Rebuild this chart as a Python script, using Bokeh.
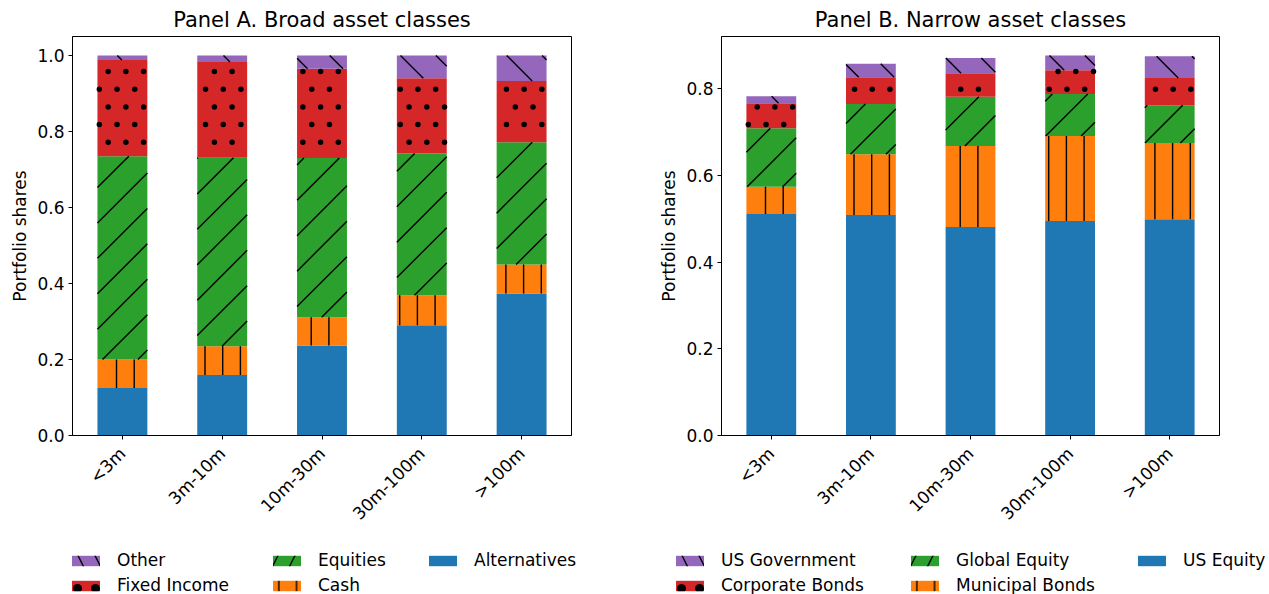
import math

from bokeh.embed import file_html
from bokeh.layouts import column, row
from bokeh.models import (ColumnDataSource, FactorRange, FixedTicker, Legend,
                          LegendItem, PrintfTickFormatter, Range1d)
from bokeh.plotting import figure
from bokeh.resources import INLINE

# Wealth buckets on the x axis
sizes = ["<3m", "3m-10m", "10m-30m", "30m-100m", ">100m"]

# Panel A: broad asset classes (shares of portfolio, stacked bottom to top)
alternatives = [0.125, 0.159, 0.237, 0.290, 0.374]
cash = [0.075, 0.076, 0.074, 0.079, 0.076]
equities = [0.535, 0.496, 0.419, 0.373, 0.322]
fixed_income = [0.253, 0.252, 0.235, 0.198, 0.161]
other = [0.012, 0.017, 0.035, 0.060, 0.067]

# Panel B: narrow asset classes (stacked bottom to top)
us_equity = [0.511, 0.509, 0.481, 0.495, 0.499]
municipal_bonds = [0.063, 0.140, 0.187, 0.196, 0.176]
global_equity = [0.135, 0.116, 0.114, 0.097, 0.087]
corporate_bonds = [0.058, 0.062, 0.054, 0.055, 0.063]
us_government = [0.016, 0.031, 0.035, 0.034, 0.050]

yticks_a = [0.0, 0.2, 0.4, 0.6, 0.8, 1.0]
yticks_b = [0.0, 0.2, 0.4, 0.6, 0.8]

COLORS = ["#1f77b4", "#ff7f0e", "#2ca02c", "#d62728", "#9467bd"]
KINDS = [None, "vline", "slash", "dot", "backslash"]
FONT = "DejaVu Sans"
FRAME_H = 399
BAR_W = 0.5

# hatch geometry in screen pixels
STEP = 17.7          # vertical-line and dot pitch
DIAG = 35.4          # diagonal-line pitch
PHASE = {"vline": 8.6, "slash": 24.8, "backslash": 0.0, "dot_v": 10.0, "dot_u": 0.3}

# swatch patterns for the legend strips
SWATCH_PATTERN = [" ", "|", "/", ".", "\\"]
SWATCH_SCALE = [12, 17.7, 34, 18, 34]


def hatch_geometry(series, pxx, pxy):
    """Hatch strokes and dots for every stacked segment, in data units."""
    segs = dict(x0=[], y0=[], x1=[], y1=[])
    dots = dict(x=[], y=[])
    base = [0.0] * len(sizes)

    def add_seg(ua, va, ub, vb):
        segs["x0"].append(ua / pxx)
        segs["y0"].append(va / pxy)
        segs["x1"].append(ub / pxx)
        segs["y1"].append(vb / pxy)

    for vals, kind in zip(series, KINDS):
        for i, val in enumerate(vals):
            u0 = (i + 0.5 - BAR_W / 2) * pxx
            u1 = (i + 0.5 + BAR_W / 2) * pxx
            v0 = base[i] * pxy
            v1 = (base[i] + val) * pxy
            base[i] += val
            if kind == "vline":
                k0 = math.ceil((u0 + 2 - PHASE["vline"]) / STEP)
                k1 = math.floor((u1 - 2 - PHASE["vline"]) / STEP)
                for k in range(k0, k1 + 1):
                    u = PHASE["vline"] + k * STEP
                    add_seg(u, v0, u, v1)
            elif kind == "slash":
                ph = PHASE["slash"]
                k0 = math.ceil((u0 - v1 - ph) / DIAG)
                k1 = math.floor((u1 - v0 - ph) / DIAG)
                for k in range(k0, k1 + 1):
                    c = ph + k * DIAG
                    us, ue = max(u0, v0 + c), min(u1, v1 + c)
                    if ue - us > 0.5:
                        add_seg(us, us - c, ue, ue - c)
            elif kind == "backslash":
                ph = PHASE["backslash"]
                k0 = math.ceil((u0 + v0 - ph) / DIAG)
                k1 = math.floor((u1 + v1 - ph) / DIAG)
                for k in range(k0, k1 + 1):
                    c = ph + k * DIAG
                    us, ue = max(u0, c - v1), min(u1, c - v0)
                    if ue - us > 0.5:
                        add_seg(us, c - us, ue, c - ue)
            elif kind == "dot":
                r0 = math.ceil((v0 + 1 - PHASE["dot_v"]) / STEP)
                r1 = math.floor((v1 - 1 - PHASE["dot_v"]) / STEP)
                for r in range(r0, r1 + 1):
                    v = PHASE["dot_v"] + r * STEP
                    off = PHASE["dot_u"] + (STEP / 2 if r % 2 else 0.0)
                    c0 = math.ceil((u0 + 1 - off) / STEP)
                    c1 = math.floor((u1 - 1 - off) / STEP)
                    for c in range(c0, c1 + 1):
                        dots["x"].append((off + c * STEP) / pxx)
                        dots["y"].append(v / pxy)
    return segs, dots


def build_panel(title, series, yticks, border_left, frame_width, border_right):
    keys = [f"s{i}" for i in range(len(series))]
    data = {"size": sizes}
    for k, s in zip(keys, series):
        data[k] = s
    source = ColumnDataSource(data)

    top = max(sum(v) for v in zip(*series)) * 1.05

    p = figure(x_range=FactorRange(*sizes), y_range=Range1d(0, top),
               frame_width=frame_width, frame_height=FRAME_H,
               min_border_left=border_left, min_border_right=border_right,
               min_border_top=35, min_border_bottom=96,
               output_backend="svg", toolbar_location=None, title=title)

    p.vbar_stack(keys, x="size", width=BAR_W, source=source,
                 fill_color=COLORS, line_color=None)

    segs, dots = hatch_geometry(series, frame_width / len(sizes), FRAME_H / top)
    p.segment(x0="x0", y0="y0", x1="x1", y1="y1", source=ColumnDataSource(segs),
              line_color="black", line_width=1.4)
    p.scatter(x="x", y="y", source=ColumnDataSource(dots), size=5.5,
              fill_color="black", line_color=None)

    p.title.text_font = FONT
    p.title.text_font_size = "21px"
    p.title.text_font_style = "normal"
    p.title.align = "center"
    p.title.text_color = "black"

    p.xgrid.visible = False
    p.ygrid.visible = False
    p.outline_line_color = "black"
    p.outline_line_width = 1
    p.outline_line_alpha = 1

    for ax in (p.xaxis[0], p.yaxis[0]):
        ax.axis_line_color = "black"
        ax.major_tick_line_color = "black"
        ax.major_tick_out = 4
        ax.major_tick_in = 0
        ax.minor_tick_out = 0
        ax.minor_tick_in = 0
        ax.major_label_text_font = FONT
        ax.major_label_text_font_size = "17px"
        ax.major_label_text_color = "black"

    p.xaxis.major_label_orientation = math.pi / 4
    p.xaxis.major_label_standoff = 11

    p.yaxis.ticker = FixedTicker(ticks=yticks)
    p.yaxis.formatter = PrintfTickFormatter(format="%.1f")
    p.yaxis.axis_label = "Portfolio shares"
    p.yaxis.axis_label_text_font = FONT
    p.yaxis.axis_label_text_font_size = "17px"
    p.yaxis.axis_label_text_font_style = "normal"
    p.yaxis.axis_label_text_color = "black"
    p.yaxis.axis_label_standoff = 4
    p.yaxis.major_label_standoff = 4
    return p, source, keys


def build_legend(width, source, keys, labels, columns):
    """Legend strip: three columns of swatches beneath a panel."""
    p = figure(x_range=FactorRange(*sizes), y_range=Range1d(0, 1),
               frame_width=width, frame_height=64, min_border=0,
               x_axis_location=None, y_axis_location=None,
               output_backend="svg", toolbar_location=None)
    p.outline_line_color = None
    p.xgrid.visible = False
    p.ygrid.visible = False

    rs = p.vbar_stack(keys, x="size", width=BAR_W, source=source,
                      fill_color=COLORS, line_color=None,
                      hatch_pattern=SWATCH_PATTERN, hatch_scale=SWATCH_SCALE,
                      hatch_color="black", hatch_weight=1.4)
    for r in rs:
        r.visible = False
    swatches = dict(zip(labels, rs))

    for dx, dy, col_labels in columns:
        items = [LegendItem(label=lab, renderers=[swatches[lab]]) for lab in col_labels]
        leg = Legend(items=items, location=(dx, dy), orientation="vertical",
                     padding=0, margin=0, spacing=5,
                     glyph_width=35, glyph_height=13, label_standoff=14,
                     label_height=20, label_text_font=FONT,
                     label_text_font_size="17px", label_text_color="black",
                     border_line_alpha=0, background_fill_alpha=0,
                     inactive_fill_alpha=0)
        p.add_layout(leg)
    return p


labels_a = ["Alternatives", "Cash", "Equities", "Fixed Income", "Other"]
panel_a, src_a, keys_a = build_panel("Panel A. Broad asset classes",
                                     [alternatives, cash, equities, fixed_income, other],
                                     yticks_a, 72, 499, 77)
legend_a = build_legend(648, src_a, keys_a, labels_a,
                        [(68, 2, ["Other", "Fixed Income"]),
                         (269, 2, ["Equities", "Cash"]),
                         (425, 27, ["Alternatives"])])

labels_b = ["US Equity", "Municipal Bonds", "Global Equity", "Corporate Bonds", "US Government"]
panel_b, src_b, keys_b = build_panel("Panel B. Narrow asset classes",
                                     [us_equity, municipal_bonds, global_equity,
                                      corporate_bonds, us_government],
                                     yticks_b, 73, 498, 50)
legend_b = build_legend(621, src_b, keys_b, labels_b,
                        [(24, 2, ["US Government", "Corporate Bonds"]),
                         (259, 2, ["Global Equity", "Municipal Bonds"]),
                         (486, 27, ["US Equity"])])

layout = column(row(panel_a, panel_b), row(legend_a, legend_b))
open("out.html", "w").write(file_html(layout, INLINE))
